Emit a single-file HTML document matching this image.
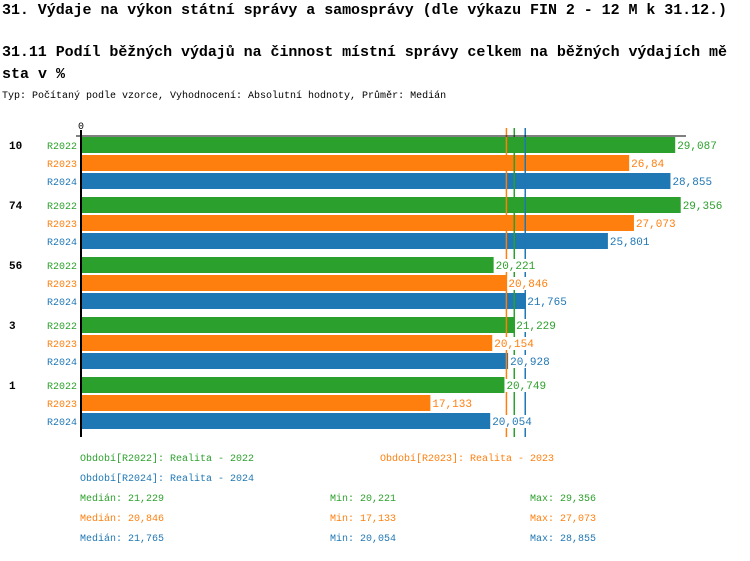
<!DOCTYPE html>
<html><head><meta charset="utf-8"><style>
body{margin:0;background:#fff;width:750px;height:556px;overflow:hidden;font-family:"Liberation Mono",monospace}
svg text{font-family:"Liberation Mono",monospace}
</style></head><body>
<svg id="c" width="750" height="556" xmlns="http://www.w3.org/2000/svg">
<text x="2" y="14" font-size="15" font-weight="bold" textLength="725">31. Výdaje na výkon státní správy a samosprávy (dle výkazu FIN 2 - 12 M k 31.12.)</text>
<text x="2" y="56" font-size="15" font-weight="bold" textLength="725">31.11 Podíl běžných výdajů na činnost místní správy celkem na běžných výdajích mě</text>
<text x="2" y="78" font-size="15" font-weight="bold">sta v %</text>
<text x="2" y="98" font-size="10">Typ: Počítaný podle vzorce, Vyhodnocení: Absolutní hodnoty, Průměr: Medián</text>
<g id="bars"></g>
</svg>
<script>
const categories=["10","74","56","3","1"];
const seriesNames=["R2022","R2023","R2024"];
const r2022=[29.087,29.356,20.221,21.229,20.749];
const r2023=[26.84,27.073,20.846,20.154,17.133];
const r2024=[28.855,25.801,21.765,20.928,20.054];
const labels2022=["29,087","29,356","20,221","21,229","20,749"];
const labels2023=["26,84","27,073","20,846","20,154","17,133"];
const labels2024=["28,855","25,801","21,765","20,928","20,054"];
const medians=[21.229,20.846,21.765];
const colors=["#2ca02c","#ff7f0e","#1f77b4"];
const NS="http://www.w3.org/2000/svg";
const g=document.getElementById('bars');
const x=v=>79.5+v*20.48;
const yGroup=i=>137+i*60;
function el(t,a){const e=document.createElementNS(NS,t);for(const k in a)e.setAttribute(k,a[k]);g.appendChild(e);return e;}
const series=[r2022,r2023,r2024],labs=[labels2022,labels2023,labels2024];
categories.forEach((c,i)=>{
  const t=el('text',{x:9,y:yGroup(i)+12,'font-size':11,'font-weight':'bold'});t.textContent=c;
  
  
  series.forEach((s,j)=>{
    const y=yGroup(i)+j*18;
    const r=el('rect',{x:81,y:y,width:x(s[i])-81,height:16,fill:colors[j]});
    
    
    const sl=el('text',{x:77,y:y+12,'font-size':10,fill:colors[j],'text-anchor':'end'});sl.textContent=seriesNames[j];
    
    
  });
});
[1,0,2].forEach(j=>{
  const l=el('line',{x1:x(medians[j]),x2:x(medians[j]),y1:128,y2:437,stroke:colors[j],'stroke-width':1.5});
  
  
});
categories.forEach((c,i)=>{
  series.forEach((s,j)=>{
    const y=yGroup(i)+j*18;
    const w=labs[j][i].length*6.6+2;
    const bg=el('rect',{x:x(s[i])+1,y:y+2,width:w,height:13,fill:'#fff'});
    
    
    const vl=el('text',{x:x(s[i])+2,y:y+12,'font-size':11,fill:colors[j]});vl.textContent=labs[j][i];
    
    
  });
});
const ax=el('line',{x1:81,x2:81,y1:130,y2:437,stroke:'#000','stroke-width':2});


const ax2=el('line',{x1:76,x2:686,y1:136,y2:136,stroke:'#000','stroke-width':1});


const z=el('text',{x:81,y:129,'font-size':10,'text-anchor':'middle'});z.textContent='0';


const legend=[
 [80,461,colors[0],'Období[R2022]: Realita - 2022'],[380,461,colors[1],'Období[R2023]: Realita - 2023'],
 [80,481,colors[2],'Období[R2024]: Realita - 2024'],
 [80,501,colors[0],'Medián: 21,229'],[330,501,colors[0],'Min: 20,221'],[530,501,colors[0],'Max: 29,356'],
 [80,521,colors[1],'Medián: 20,846'],[330,521,colors[1],'Min: 17,133'],[530,521,colors[1],'Max: 27,073'],
 [80,541,colors[2],'Medián: 21,765'],[330,541,colors[2],'Min: 20,054'],[530,541,colors[2],'Max: 28,855']];
legend.forEach(a=>{const t=el('text',{x:a[0],y:a[1],'font-size':10,fill:a[2]});t.textContent=a[3];
  
  });
</script>
</body></html>
